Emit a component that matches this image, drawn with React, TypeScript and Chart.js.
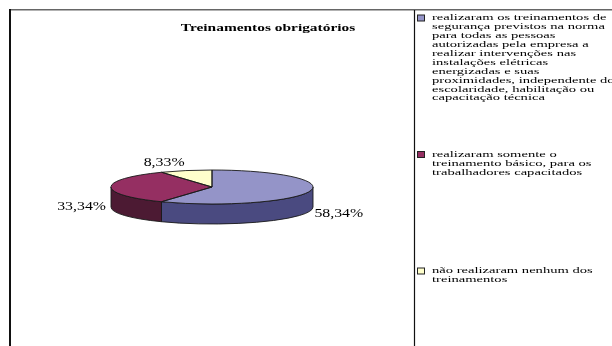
import { useEffect, useRef } from "react";
import { Chart, registerables } from "chart.js";

Chart.register(...registerables);

// Legend entries, one string per printed line
const categories: string[][] = [
  [
    "realizaram os treinamentos de",
    "segurança previstos na norma",
    "para todas as pessoas",
    "autorizadas pela empresa a",
    "realizar intervenções nas",
    "instalações elétricas",
    "energizadas e suas",
    "proximidades, independente do",
    "escolaridade, habilitação ou",
    "capacitação técnica",
  ],
  ["realizaram somente o", "treinamento básico, para os", "trabalhadores capacitados"],
  ["não realizaram nenhum dos", "treinamentos"],
];
const shares = [58.34, 33.34, 8.33];
const topColors = ["#9494C8", "#952F62", "#FFFFCC"];
const sideColors = ["#4A4A80", "#4C1A33", "#8A8A6E"];
const titleText = "Treinamentos obrigatórios";

// Drawing constants
const W = 612;
const H = 346;
const SERIF = '"Liberation Serif", "Times New Roman", serif';
const SQUASH = 17 / 101; // vertical squash of the pie top
const DEPTH = 20; // thickness of the pie wall
const EDGE = "#1a1a1a";
const LEGEND_ITEM_Y = [18, 154.5, 271];
const LEGEND_LINE = 8.9;

type Align = "left" | "right" | "center";

function wideText(
  ctx: CanvasRenderingContext2D,
  text: string,
  x: number,
  y: number,
  font: string,
  sx: number,
  align: Align,
  color = "#000"
) {
  ctx.save();
  ctx.font = font;
  ctx.textAlign = "left";
  ctx.textBaseline = "middle";
  const w = ctx.measureText(text).width * sx;
  const left = align === "left" ? x : align === "right" ? x - w : x - w / 2;
  ctx.translate(left, y);
  ctx.scale(sx, 1);
  ctx.fillStyle = color;
  ctx.fillText(text, 0, 0);
  ctx.restore();
}

const formatShare = (v: number) => v.toFixed(2).replace(".", ",") + "%";

const pie3d = {
  id: "pie3d",
  beforeDraw(chart: any) {
    const ctx: CanvasRenderingContext2D = chart.ctx;
    ctx.save();
    ctx.fillStyle = "#fff";
    ctx.fillRect(0, 0, W, H);
    ctx.restore();
  },
  beforeDatasetsDraw(chart: any) {
    const ctx: CanvasRenderingContext2D = chart.ctx;
    const arcs = chart.getDatasetMeta(0).data;
    const { x, y, outerRadius } = arcs[0].getProps(["x", "y", "outerRadius"], true);
    const rx = outerRadius;
    const ry = outerRadius * SQUASH;
    // front wall of each slice (only the part facing the viewer)
    arcs.forEach((arc: any, i: number) => {
      const { startAngle, endAngle } = arc.getProps(["startAngle", "endAngle"], true);
      const a = Math.max(startAngle, 0);
      const b = Math.min(endAngle, Math.PI);
      if (b <= a) return;
      ctx.beginPath();
      ctx.ellipse(x, y, rx, ry, 0, a, b);
      ctx.lineTo(x + rx * Math.cos(b), y + ry * Math.sin(b) + DEPTH);
      ctx.ellipse(x, y + DEPTH, rx, ry, 0, b, a, true);
      ctx.closePath();
      ctx.fillStyle = sideColors[i];
      ctx.fill();
      ctx.strokeStyle = EDGE;
      ctx.lineWidth = 0.9;
      ctx.stroke();
    });
    // flatten the slices into an ellipse
    ctx.save();
    ctx.translate(x, y);
    ctx.scale(1, SQUASH);
    ctx.translate(-x, -y);
  },
  afterDatasetsDraw(chart: any) {
    const ctx: CanvasRenderingContext2D = chart.ctx;
    ctx.restore();
    const arcs = chart.getDatasetMeta(0).data;
    const { x, y, outerRadius } = arcs[0].getProps(["x", "y", "outerRadius"], true);
    const rx = outerRadius;
    const ry = outerRadius * SQUASH;
    const values: number[] = chart.data.datasets[0].data;
    arcs.forEach((arc: any, i: number) => {
      const { startAngle, endAngle } = arc.getProps(["startAngle", "endAngle"], true);
      ctx.beginPath();
      ctx.moveTo(x, y);
      ctx.ellipse(x, y, rx, ry, 0, startAngle, endAngle);
      ctx.closePath();
      ctx.strokeStyle = EDGE;
      ctx.lineWidth = 0.9;
      ctx.stroke();

      // value label outside the slice
      const mid = (startAngle + endAngle) / 2;
      const c = Math.cos(mid);
      const s = Math.sin(mid);
      const px = x + rx * c + 5 * c;
      const py = y + (ry + 8) * s + (s > -0.5 ? DEPTH : 0);
      wideText(ctx, formatShare(values[i]), px, py, `12px ${SERIF}`, 1.32, c >= 0 ? "left" : "right");
    });
  },
  afterDraw(chart: any) {
    const ctx: CanvasRenderingContext2D = chart.ctx;
    // frame
    ctx.save();
    ctx.strokeStyle = "#666";
    ctx.lineWidth = 1.5;
    ctx.beginPath();
    ctx.moveTo(9, 9.75);
    ctx.lineTo(W, 9.75);
    ctx.stroke();
    ctx.strokeStyle = "#111";
    ctx.lineWidth = 2;
    ctx.beginPath();
    ctx.moveTo(10, 9);
    ctx.lineTo(10, H);
    ctx.stroke();
    ctx.lineWidth = 1.2;
    ctx.beginPath();
    ctx.moveTo(414.5, 10);
    ctx.lineTo(414.5, H);
    ctx.stroke();
    ctx.restore();

    // title
    wideText(ctx, titleText, 268, 28, `bold 11px ${SERIF}`, 1.4, "center");

    // legend
    const legendFont = `9px ${SERIF}`;
    categories.forEach((lines, i) => {
      const y0 = LEGEND_ITEM_Y[i];
      ctx.save();
      ctx.fillStyle = topColors[i];
      ctx.fillRect(417.5, y0 - 3, 7, 6);
      ctx.strokeStyle = "#222";
      ctx.lineWidth = 1;
      ctx.strokeRect(417.5, y0 - 3, 7, 6);
      ctx.restore();
      lines.forEach((line, j) => {
        wideText(ctx, line, 432, y0 + j * LEGEND_LINE, legendFont, 1.62, "left");
      });
    });
  },
};

export default function App() {
  const canvasRef = useRef<HTMLCanvasElement>(null);

  useEffect(() => {
    if (!canvasRef.current) return;
    const chart = new Chart(canvasRef.current, {
      type: "pie",
      data: {
        labels: categories.map((l) => l.join(" ")),
        datasets: [
          {
            data: shares,
            backgroundColor: topColors,
            borderWidth: 0,
          },
        ],
      },
      options: {
        animation: false,
        responsive: false,
        devicePixelRatio: 1,
        events: [],
        layout: { padding: { left: 111, top: 86, right: 299, bottom: 58 } },
        plugins: {
          legend: { display: false },
          title: { display: false },
          tooltip: { enabled: false },
        },
      },
      plugins: [pie3d],
    });
    return () => chart.destroy();
  }, []);

  return (
    <div style={{ position: "fixed", left: 0, top: 0, width: W, height: H, background: "#fff" }}>
      <canvas ref={canvasRef} width={W} height={H} style={{ display: "block" }} />
    </div>
  );
}
